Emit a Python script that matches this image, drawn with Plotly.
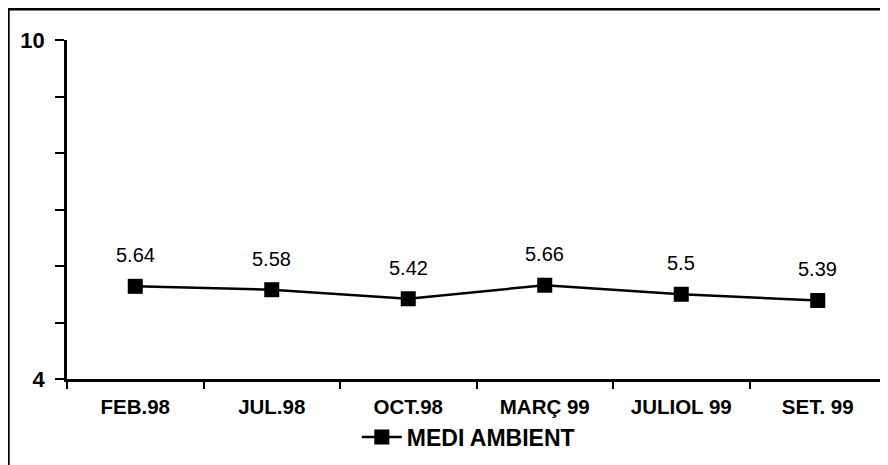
import plotly.graph_objects as go

categories = ["FEB.98", "JUL.98", "OCT.98", "MARÇ 99", "JULIOL 99", "SET. 99"]
values = [5.64, 5.58, 5.42, 5.66, 5.5, 5.39]
value_labels = ["5.64", "5.58", "5.42", "5.66", "5.5", "5.39"]
series_name = "MEDI AMBIENT"
y_tickvals = [4, 5, 6, 7, 8, 9, 10]
y_ticktext = ["4", "", "", "", "", "", "10"]

FONT = "Liberation Sans, Arial, sans-serif"

fig = go.Figure()
fig.add_trace(go.Scatter(
    x=categories, y=values, name=series_name,
    mode="lines+markers",
    line=dict(color="black", width=2.5),
    marker=dict(symbol="square", size=15, color="black"),
    showlegend=True,
))

for c, v, t in zip(categories, values, value_labels):
    fig.add_annotation(x=c, y=v, text=t, showarrow=False, yshift=31,
                       font=dict(family=FONT, size=20, color="black"))

fig.add_shape(type="rect", xref="paper", yref="paper",
              x0=-0.0715, x1=1.02, y0=-0.3, y1=1.091,
              line=dict(color="black", width=2.5), fillcolor="rgba(0,0,0,0)")

fig.update_layout(
    width=888, height=465,
    margin=dict(l=59, r=10, t=32, b=94),
    paper_bgcolor="white", plot_bgcolor="white",
    font=dict(family=FONT, color="black"),
    showlegend=True,
    legend=dict(orientation="h", x=0.49, y=-0.171, xanchor="center", yanchor="middle",
                font=dict(family=FONT, size=23, color="black", weight="bold"),
                bgcolor="rgba(0,0,0,0)", itemwidth=40),
    xaxis=dict(
        type="category", showgrid=False, zeroline=False,
        showline=True, linecolor="black", linewidth=2.5,
        ticks="outside", tickson="boundaries", ticklen=7, tickwidth=2, tickcolor="black",
        tickfont=dict(family=FONT, size=20.5, color="black", weight="bold"),
        ticklabelstandoff=8,
        range=[-0.5, 5.5],
    ),
    yaxis=dict(
        range=[4, 10], showgrid=False, zeroline=False,
        showline=True, linecolor="black", linewidth=2.5,
        tickmode="array", tickvals=y_tickvals, ticktext=y_ticktext,
        ticks="outside", ticklen=9, tickwidth=2, tickcolor="black",
        tickfont=dict(family=FONT, size=22, color="black", weight="bold"),
        ticklabelstandoff=6,
    ),
)

fig.write_html("out.html")
